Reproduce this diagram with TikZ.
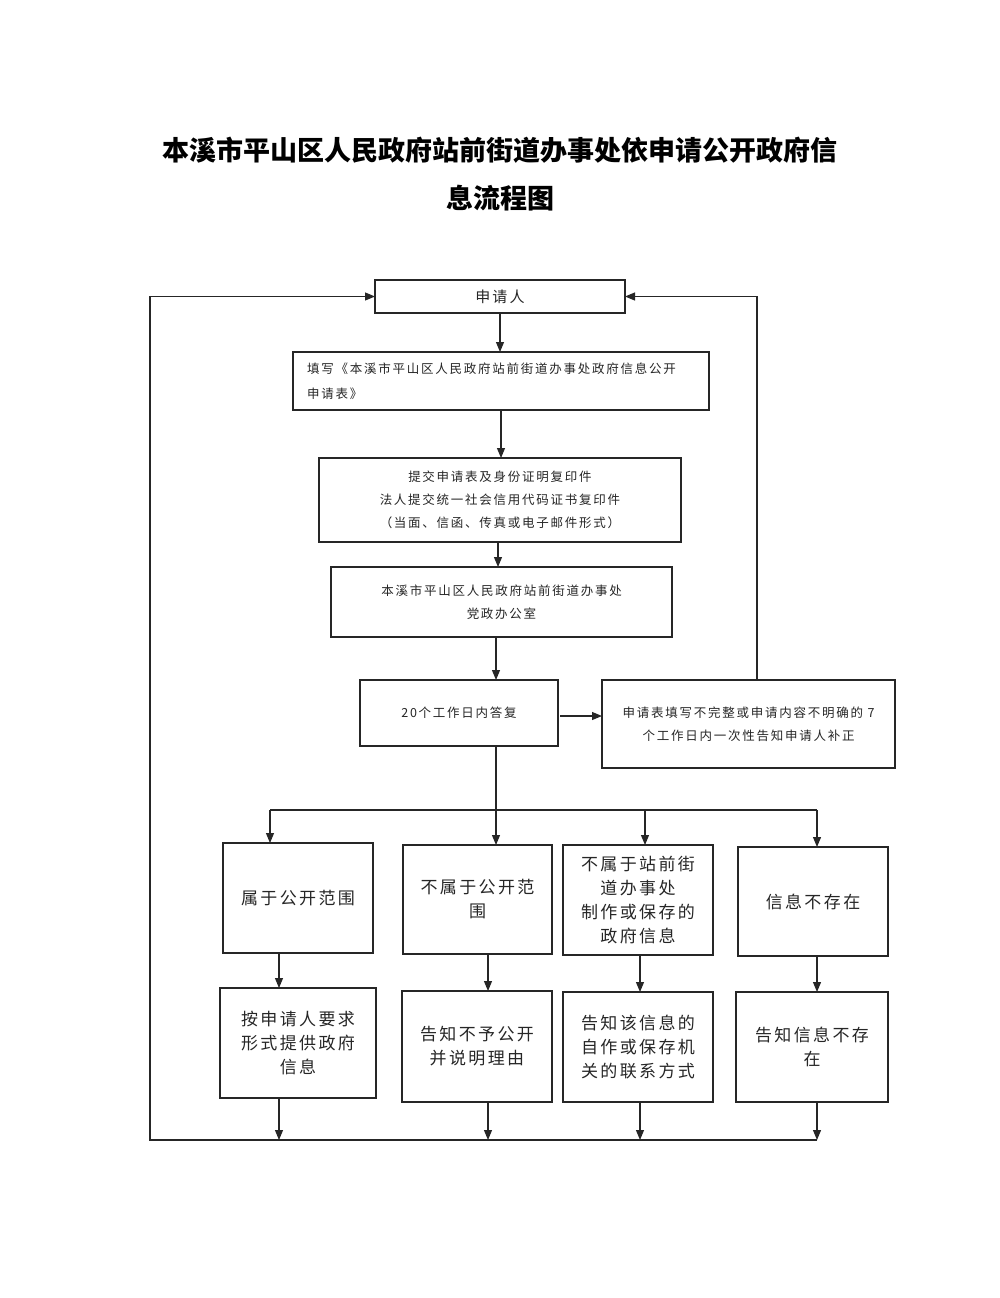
\documentclass[tikz,border=0pt]{standalone}
\usepackage{fontspec}
\newfontfamily\cjk[LetterSpace=14]{Noto Sans CJK SC}
\newfontfamily\cjktitle{Noto Sans CJK SC}
\usetikzlibrary{arrows.meta}
\begin{document}
\begin{tikzpicture}[x=1pt,y=-1pt,
  box/.style={draw=black!85, line width=1.1pt, inner sep=0pt, outer sep=0pt, align=center, text=black!85},
  small/.style={font=\cjk\fontsize{12.5}{23}\selectfont},
  big/.style={font=\cjk\fontsize{17}{24}\selectfont},
  arr/.style={draw=black!85, line width=1.1pt, -{Triangle[length=10pt,width=8pt]}},
  ln/.style={draw=black!85, line width=1.1pt},
  ttl/.style={font=\cjktitle\bfseries\fontsize{27}{27}\selectfont, text=black}]
\useasboundingbox[fill=white] (0,0) rectangle (1000,1298);

% title
\node[ttl] (title1) at (500,150) {本溪市平山区人民政府站前街道办事处依申请公开政府信};
\node[ttl] (title2) at (500,198) {息流程图};

% main column
\node[box, small, font=\cjk\fontsize{15}{20}\selectfont, minimum width=250pt, minimum height=33pt] (app) at (500,296.5) {申请人};
\node[box, small, minimum width=416pt, minimum height=58pt, text width=388pt, align=left, font=\cjk\fontsize{12.5}{25}\selectfont] (fill) at (501,381) {填写《本溪市平山区人民政府站前街道办事处政府信息公开\\申请表》};
\node[box, small, minimum width=362pt, minimum height=84pt] (submit) at (500,500) {提交申请表及身份证明复印件\\法人提交统一社会信用代码证书复印件\\（当面、信函、传真或电子邮件形式）};
\node[box, small, minimum width=341pt, minimum height=70pt] (office) at (501.5,602) {本溪市平山区人民政府站前街道办事处\\党政办公室};
\node[box, small, minimum width=198pt, minimum height=66pt] (reply) at (459,713) {20个工作日内答复};
\node[box, small, minimum width=293pt, minimum height=88pt] (notice) at (748.5,724) {申请表填写不完整或申请内容不明确的 7\\个工作日内一次性告知申请人补正};

% row 1
\node[box, big, minimum width=150pt, minimum height=110pt] (r1a) at (298,898) {属于公开范围};
\node[box, big, minimum width=149pt, minimum height=109pt] (r1b) at (477.5,899.5) {不属于公开范\\围};
\node[box, big, minimum width=150pt, minimum height=110pt] (r1c) at (638,900) {不属于站前街\\道办事处\\制作或保存的\\政府信息};
\node[box, big, minimum width=150pt, minimum height=109pt] (r1d) at (813,901.5) {信息不存在};

% row 2
\node[box, big, minimum width=156pt, minimum height=110pt] (r2a) at (298,1043) {按申请人要求\\形式提供政府\\信息};
\node[box, big, minimum width=150pt, minimum height=111pt] (r2b) at (477,1046.5) {告知不予公开\\并说明理由};
\node[box, big, minimum width=150pt, minimum height=110pt] (r2c) at (638,1047) {告知该信息的\\自作或保存机\\关的联系方式};
\node[box, big, minimum width=152pt, minimum height=110pt] (r2d) at (812,1047) {告知信息不存\\在};

% helper coordinates
\coordinate (spine) at (496,0);
\coordinate (loopR) at (757,0);
\coordinate (side) at (0,716);
\coordinate (bus1) at (270,810);
\coordinate (bus3) at (645,810);
\coordinate (bus4) at (817,810);
\coordinate (cA) at (279,0);
\coordinate (cB) at (488,0);
\coordinate (cC) at (640,0);
\coordinate (cD) at (817,0);
\coordinate (bottom) at (0,1140);
\coordinate (loopL) at (150,1140);

% connectors, main column
\draw[arr] (app.south) -- (app.south |- fill.north);
\draw[arr] (fill.south) -- (fill.south |- submit.north);
\draw[arr] ([xshift=-2pt]submit.south) -- ([xshift=-2pt]submit.south |- office.north);
\draw[arr] (office.south -| spine) -- (reply.north -| spine);
\draw[arr] ([xshift=2pt]reply.east |- side) -- (notice.west |- side);

% branch to row 1
\draw[arr] (reply.south -| spine) -- (r1b.north -| spine);
\draw[ln] (bus1) -- (bus4);
\draw[arr] (bus1) -- (bus1 |- r1a.north);
\draw[arr] (bus3) -- (bus3 |- r1c.north);
\draw[arr] (bus4) -- (bus4 |- r1d.north);

% row 1 -> row 2
\draw[arr] (r1a.south -| cA) -- (r2a.north -| cA);
\draw[arr] (r1b.south -| cB) -- (r2b.north -| cB);
\draw[arr] (r1c.south -| cC) -- (r2c.north -| cC);
\draw[arr] (r1d.south -| cD) -- (r2d.north -| cD);

% row 2 -> bottom line
\draw[arr] (r2a.south -| cA) -- (bottom -| cA);
\draw[arr] (r2b.south -| cB) -- (bottom -| cB);
\draw[arr] (r2c.south -| cC) -- (bottom -| cC);
\draw[arr] (r2d.south -| cD) -- (bottom -| cD);

% feedback loops
\draw[arr] (bottom -| cD) -- (loopL) -- (loopL |- app.west) -- (app.west);
\draw[arr] (notice.north -| loopR) -- (loopR |- app.east) -- (app.east);
\end{tikzpicture}
\end{document}
